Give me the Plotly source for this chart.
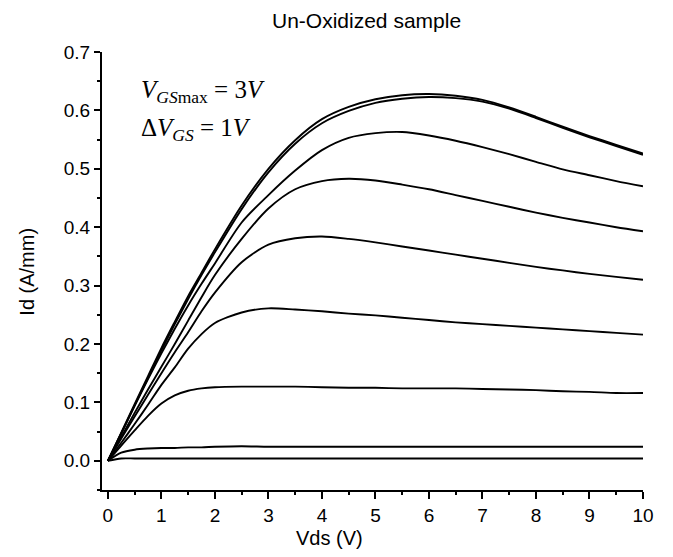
import plotly.graph_objects as go

# Drain voltage grid (V)
vds = [0, 0.25, 0.5, 0.75, 1.0, 1.25, 1.5, 1.75, 2.0, 2.5, 3.0, 3.5, 4.0, 4.5,
       5.0, 5.5, 6.0, 6.5, 7.0, 7.5, 8.0, 8.5, 9.0, 9.5, 10.0]

# Drain current (A/mm) for VGS = 3, 2, 1, 0, -1, -2, -3, -4, -5 V
id_vgs_p3 = [0, 0.048, 0.097, 0.145, 0.193, 0.238, 0.282, 0.322, 0.362, 0.437, 0.500, 0.549,
             0.585, 0.606, 0.619, 0.626, 0.628, 0.625, 0.618, 0.605, 0.589, 0.572, 0.556, 0.541, 0.526]
id_vgs_p2 = [0, 0.047, 0.095, 0.142, 0.189, 0.234, 0.277, 0.318, 0.357, 0.431, 0.494, 0.543,
             0.578, 0.599, 0.613, 0.620, 0.623, 0.621, 0.615, 0.603, 0.587, 0.570, 0.554, 0.539, 0.524]
id_vgs_p1 = [0, 0.047, 0.094, 0.140, 0.184, 0.226, 0.266, 0.303, 0.338, 0.408, 0.455, 0.497,
             0.532, 0.553, 0.561, 0.563, 0.557, 0.548, 0.537, 0.525, 0.512, 0.499, 0.489, 0.479, 0.470]
id_vgs_0 = [0, 0.041, 0.082, 0.122, 0.161, 0.200, 0.240, 0.280, 0.318, 0.380, 0.432, 0.465,
            0.479, 0.483, 0.480, 0.473, 0.465, 0.455, 0.445, 0.435, 0.425, 0.416, 0.408, 0.400, 0.393]
id_vgs_m1 = [0, 0.038, 0.076, 0.113, 0.150, 0.186, 0.220, 0.256, 0.288, 0.340, 0.370, 0.381,
             0.384, 0.380, 0.374, 0.367, 0.360, 0.353, 0.346, 0.339, 0.332, 0.326, 0.320, 0.315, 0.310]
id_vgs_m2 = [0, 0.031, 0.063, 0.096, 0.130, 0.160, 0.192, 0.217, 0.236, 0.254, 0.261, 0.259,
             0.256, 0.252, 0.249, 0.245, 0.241, 0.237, 0.234, 0.231, 0.228, 0.225, 0.222, 0.219, 0.216]
id_vgs_m3 = [0, 0.026, 0.052, 0.077, 0.098, 0.112, 0.120, 0.124, 0.126, 0.127, 0.127, 0.127,
             0.126, 0.125, 0.125, 0.124, 0.124, 0.124, 0.123, 0.122, 0.121, 0.119, 0.118, 0.116, 0.116]
id_vgs_m4 = [0, 0.014, 0.019, 0.021, 0.022, 0.022, 0.023, 0.023, 0.024, 0.025, 0.024, 0.024,
             0.024, 0.024, 0.024, 0.024, 0.024, 0.024, 0.024, 0.024, 0.024, 0.024, 0.024, 0.024, 0.024]
id_vgs_m5 = [0, 0.004, 0.004, 0.004, 0.004, 0.004, 0.004, 0.004, 0.004, 0.004, 0.004, 0.004,
             0.004, 0.004, 0.004, 0.004, 0.004, 0.004, 0.004, 0.004, 0.004, 0.004, 0.004, 0.004, 0.004]

series = [id_vgs_p3, id_vgs_p2, id_vgs_p1, id_vgs_0, id_vgs_m1,
          id_vgs_m2, id_vgs_m3, id_vgs_m4, id_vgs_m5]
names = ["3 V", "2 V", "1 V", "0 V", "-1 V", "-2 V", "-3 V", "-4 V", "-5 V"]

x_ticks = list(range(0, 11))
y_ticks = [0.0, 0.1, 0.2, 0.3, 0.4, 0.5, 0.6, 0.7]

fig = go.Figure()
for n, s in zip(names, series):
    fig.add_trace(go.Scatter(x=vds, y=s, mode="lines", name=n,
                             line=dict(color="black", width=1.9, shape="spline", smoothing=0.8),
                             showlegend=False))

tick_font = dict(family="Liberation Sans, Arial, sans-serif", size=19, color="black")

fig.update_layout(
    width=673, height=557,
    margin=dict(l=102, r=30, t=52, b=67),
    paper_bgcolor="white", plot_bgcolor="white",
    xaxis=dict(range=[-0.11, 10.0], tickvals=x_ticks, showgrid=False, zeroline=False,
               showline=True, linecolor="black", linewidth=2,
               ticks="outside", ticklen=7, tickwidth=2, tickcolor="black",
               tickfont=tick_font,
               minor=dict(dtick=0.5, tick0=0, ticks="outside", ticklen=3, tickwidth=2, tickcolor="black")),
    yaxis=dict(range=[-0.05, 0.7], tickvals=y_ticks, tickformat=".1f", showgrid=False, zeroline=False,
               showline=True, linecolor="black", linewidth=2,
               ticks="outside", ticklen=6, tickwidth=2, tickcolor="black",
               tickfont=tick_font,
               minor=dict(dtick=0.05, tick0=0, ticks="outside", ticklen=3, tickwidth=2, tickcolor="black")),
)

ann_font = dict(family="Liberation Sans, Arial, sans-serif", color="black")
fig.add_annotation(text="Un-Oxidized sample", xref="paper", yref="paper",
                   x=0.488, y=1.073, showarrow=False, xanchor="center", yanchor="middle",
                   font=dict(size=21, **ann_font))
fig.add_annotation(text="Vds (V)", xref="paper", yref="paper",
                   x=0.421, y=-0.110, showarrow=False, xanchor="center", yanchor="middle",
                   font=dict(size=20, **ann_font))
fig.add_annotation(text="Id (A/mm)", xref="paper", yref="paper", textangle=-90,
                   x=-0.139, y=0.498, showarrow=False, xanchor="center", yanchor="middle",
                   font=dict(size=20, **ann_font))

serif = dict(family="Liberation Serif, Times New Roman, serif", color="black", size=25)
fig.add_annotation(text="<i>V</i><sub><i>GS</i>max</sub> = 3<i>V</i>", xref="paper", yref="paper",
                   x=(139 - 102) / 541, y=(490 - 91) / 438, showarrow=False,
                   xanchor="left", yanchor="middle", font=serif)
fig.add_annotation(text="Δ<i>V</i><sub><i>GS</i></sub> = 1<i>V</i>", xref="paper", yref="paper",
                   x=(139 - 102) / 541, y=(490 - 129) / 438, showarrow=False,
                   xanchor="left", yanchor="middle", font=serif)

fig.write_html("out.html", config={"displayModeBar": False},
               post_script="document.body.style.margin='0px';")
